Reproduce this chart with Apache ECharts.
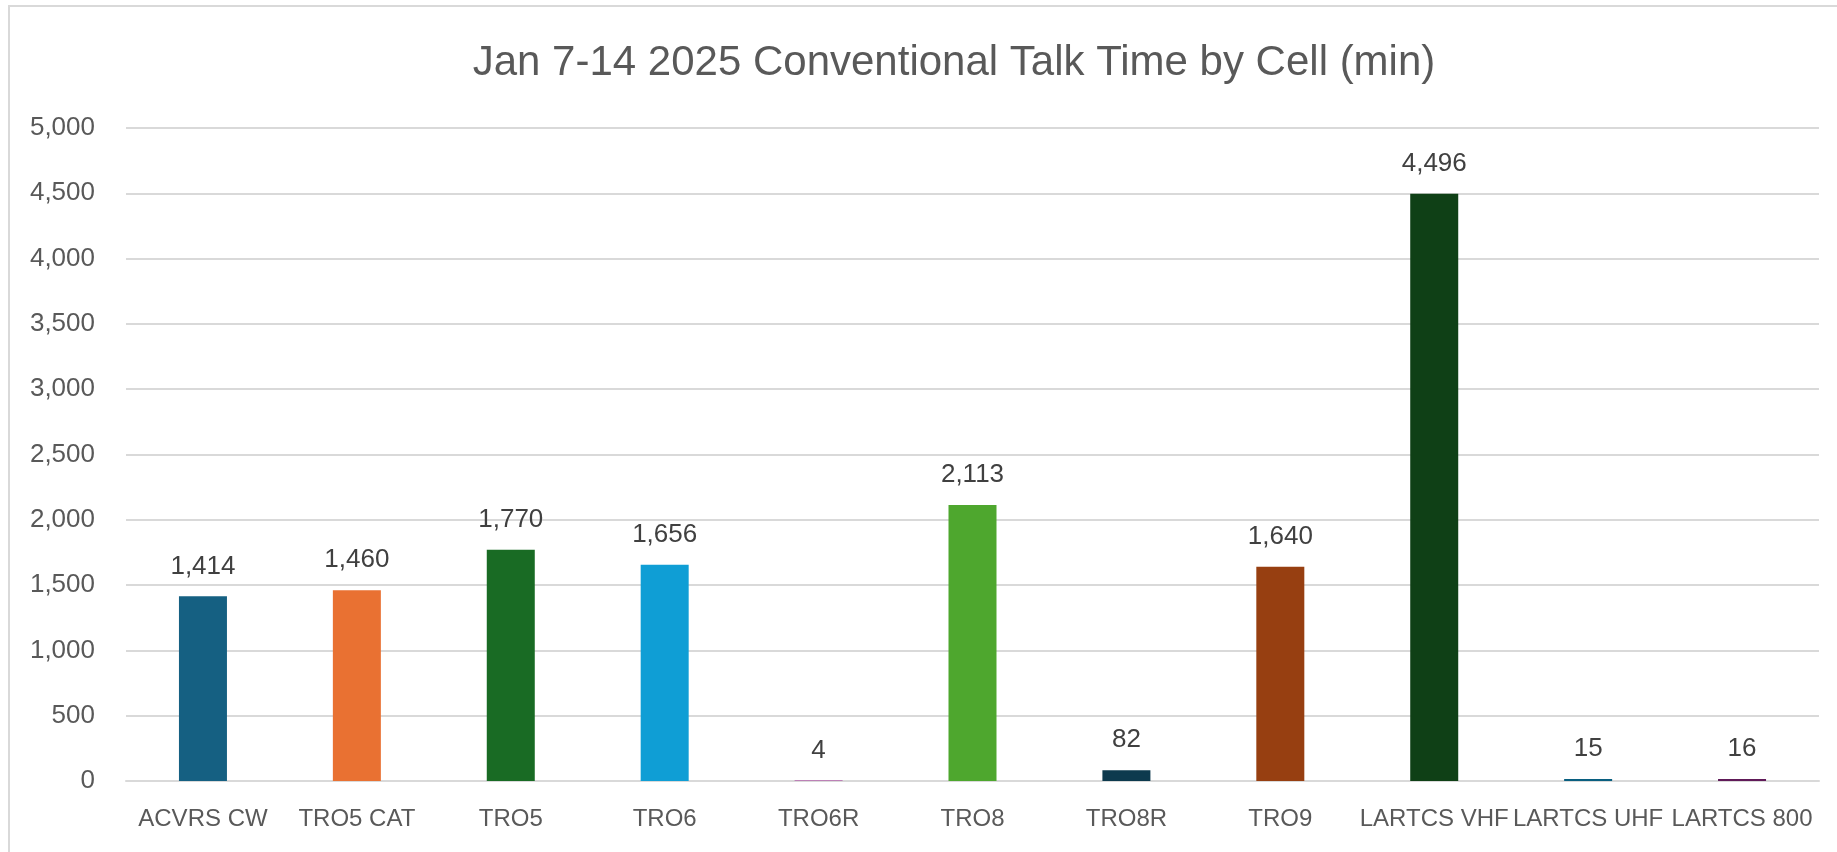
<!DOCTYPE html>
<html>
<head>
<meta charset="utf-8">
<script src="https://cdn.jsdelivr.net/npm/echarts@6/dist/echarts.min.js"></script>
<style>
  html, body { margin: 0; padding: 0; background: #fff; overflow: hidden; }
  #frame { position: absolute; left: 8px; top: 5px; width: 1900px; height: 900px; border: 2px solid #d9d9d9; }
  #chart { position: absolute; left: 0; top: 0; width: 1837px; height: 852px; }
</style>
</head>
<body>
<div id="frame"></div>
<div id="chart"></div>
<script>
const categories = ['ACVRS CW', 'TRO5 CAT', 'TRO5', 'TRO6', 'TRO6R', 'TRO8', 'TRO8R', 'TRO9', 'LARTCS VHF', 'LARTCS UHF', 'LARTCS 800']
const talkMinutes = [1414, 1460, 1770, 1656, 4, 2113, 82, 1640, 4496, 15, 16]
const barColors = ['#156082', '#e97132', '#196b24', '#0f9ed5', '#a02b93', '#4ea72e', '#0d3a4e', '#973f11', '#0f4016', '#095f80', '#601a58']

const font = '"Liberation Sans", Arial, sans-serif'
const chart = echarts.init(document.getElementById('chart'))

chart.setOption({
  animation: false,
  title: {
    text: 'Jan 7-14 2025 Conventional Talk Time by Cell (min)',
    left: 949,
    top: 37,
    textAlign: 'center',
    textStyle: { fontFamily: font, fontSize: 42, fontWeight: 'normal', color: '#595959' },
  },
  grid: { left: 126, right: 18, top: 128, bottom: 71 },
  xAxis: {
    type: 'category',
    data: categories,
    axisTick: { show: false },
    axisLine: { lineStyle: { color: '#d9d9d9', width: 2 } },
    axisLabel: { interval: 0, margin: 26, fontFamily: font, fontSize: 24, color: '#595959' },
  },
  yAxis: {
    type: 'value',
    min: 0,
    max: 5000,
    interval: 500,
    axisLine: { show: false },
    axisTick: { show: false },
    splitLine: { lineStyle: { color: '#d9d9d9', width: 2 } },
    axisLabel: {
      margin: 31,
      fontFamily: font,
      fontSize: 26,
      color: '#595959',
      formatter: v => v.toLocaleString('en-US'),
    },
  },
  series: [{
    type: 'bar',
    barWidth: 48,
    data: talkMinutes.map((v, i) => ({ value: v, itemStyle: { color: barColors[i] } })),
    label: {
      show: true,
      position: 'top',
      distance: 17,
      fontFamily: font,
      fontSize: 26,
      color: '#404040',
      formatter: p => p.value.toLocaleString('en-US'),
    },
  }],
})
</script>
</body>
</html>
